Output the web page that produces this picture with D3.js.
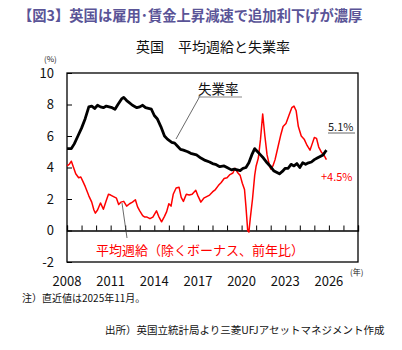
<!DOCTYPE html>
<html>
<head>
<meta charset="utf-8">
<script src="https://cdn.jsdelivr.net/npm/d3@7"></script>
<style>
  body { margin: 0; background: #fff; }
  text { font-family: "Noto Sans CJK JP", "Noto Sans", sans-serif; }
</style>
</head>
<body>
<div id="container"></div>
<script>
let w = 402;
let h = 350;

// unemployment rate (%)
let unempYears = [2008.0, 2008.3, 2008.5, 2008.75, 2009.0, 2009.25, 2009.5, 2009.7, 2009.9, 2010.1, 2010.3, 2010.5, 2010.7, 2010.9,
  2011.1, 2011.3, 2011.5, 2011.75, 2011.9, 2012.1, 2012.3, 2012.5, 2012.8, 2013.0, 2013.2, 2013.4, 2013.6, 2013.8,
  2014.0, 2014.2, 2014.45, 2014.7, 2014.9, 2015.2, 2015.4, 2015.6, 2015.8, 2016.0, 2016.3, 2016.5, 2016.7, 2016.9,
  2017.2, 2017.5, 2017.8, 2018.0, 2018.2, 2018.5, 2018.8, 2019.0, 2019.3, 2019.5, 2019.7, 2019.9, 2020.1, 2020.3,
  2020.5, 2020.7, 2020.9, 2021.1, 2021.3, 2021.5, 2021.75, 2022.0, 2022.2, 2022.4, 2022.6, 2022.8, 2023.0, 2023.2,
  2023.4, 2023.6, 2023.8, 2024.0, 2024.2, 2024.4, 2024.6, 2024.8, 2025.0, 2025.2, 2025.4, 2025.6, 2025.75, 2025.83];
let unempValues = [5.2, 5.2, 5.5, 6.0, 6.5, 7.1, 7.85, 7.9, 7.75, 7.95, 7.85, 7.8, 7.9, 7.85,
  7.8, 7.7, 8.0, 8.35, 8.45, 8.25, 8.1, 7.95, 7.8, 7.85, 7.95, 7.8, 7.75, 7.7,
  7.3, 7.1, 6.6, 6.0, 5.8, 5.6, 5.55, 5.35, 5.15, 5.1, 5.0, 4.9, 4.85, 4.8,
  4.6, 4.45, 4.35, 4.25, 4.2, 4.05, 4.1, 4.0, 3.85, 3.9, 3.85, 3.8, 3.95, 4.0,
  4.3, 4.8, 5.2, 5.0, 4.8, 4.6, 4.3, 4.05, 3.8, 3.7, 3.6, 3.75, 3.95, 3.95,
  4.2, 4.1, 4.25, 4.0, 4.3, 4.2, 4.3, 4.35, 4.5, 4.6, 4.7, 4.8, 5.0, 5.1];

// average weekly earnings excl. bonus, y/y (%)
let wageYears = [2008.0, 2008.15, 2008.3, 2008.45, 2008.6, 2008.8, 2008.95, 2009.1, 2009.25, 2009.5, 2009.7, 2009.85, 2009.95,
  2010.1, 2010.3, 2010.5, 2010.7, 2010.85, 2011.0, 2011.2, 2011.4, 2011.55, 2011.7, 2011.9, 2012.1, 2012.3, 2012.5,
  2012.7, 2012.85, 2013.0, 2013.2, 2013.35, 2013.5, 2013.7, 2013.9, 2014.15, 2014.3, 2014.5, 2014.7, 2014.85, 2015.0,
  2015.15, 2015.3, 2015.5, 2015.7, 2015.85, 2016.0, 2016.2, 2016.4, 2016.6, 2016.85, 2017.0, 2017.2, 2017.4, 2017.6,
  2017.8, 2018.0, 2018.2, 2018.4, 2018.6, 2018.8, 2019.0, 2019.2, 2019.4, 2019.55, 2019.75, 2019.9, 2020.05, 2020.2,
  2020.3, 2020.42, 2020.5, 2020.6, 2020.75, 2020.9, 2021.0, 2021.15, 2021.3, 2021.45, 2021.6, 2021.75, 2021.9, 2022.0,
  2022.15, 2022.3, 2022.5, 2022.7, 2022.85, 2023.05, 2023.25, 2023.45, 2023.6, 2023.75, 2023.9, 2024.1, 2024.3, 2024.5,
  2024.7, 2024.85, 2025.0, 2025.15, 2025.3, 2025.5, 2025.65, 2025.83];
let wageValues = [4.1, 4.2, 4.4, 4.0, 3.6, 3.35, 3.4, 3.1, 2.8, 2.2, 1.8, 1.3, 1.1,
  1.3, 1.75, 1.35, 1.9, 2.3, 2.25, 2.15, 2.05, 1.65, 1.8, 1.85, 1.55, 1.7, 1.8,
  1.95, 1.5, 1.25, 0.95, 0.85, 0.85, 0.75, 0.85, 1.25, 0.9, 0.55, 0.9, 1.2, 1.7,
  1.55, 2.3, 2.7, 2.75, 2.1, 1.85, 2.3, 2.25, 2.3, 2.55, 2.2, 1.8, 2.05, 2.15,
  2.25, 2.45, 2.6, 2.85, 3.05, 3.3, 3.35, 3.55, 3.65, 3.95, 3.65, 3.5, 3.0, 2.6,
  1.5, 0.0, -0.1, 0.8, 2.0, 3.5, 4.1, 4.6, 5.8, 7.4, 6.0, 4.8, 4.2, 3.9,
  4.1, 4.5, 5.3, 6.1, 6.6, 6.8, 7.3, 7.8, 7.9, 7.6, 6.6, 6.0, 5.8, 5.4,
  5.1, 5.5, 5.9, 5.85, 5.3, 4.95, 4.8, 4.5];

let yTicks = [-2, 0, 2, 4, 6, 8, 10];
let xTickLabels = [2008, 2011, 2014, 2017, 2020, 2023, 2026];

let unempData = unempYears.map((y, i) => ({ x: y, v: unempValues[i] }));
let wageData = wageYears.map((y, i) => ({ x: y, v: wageValues[i] }));

let viz = d3.select('#container')
  .append('svg')
    .attr('width', w)
    .attr('height', h)
    .style('background-color', 'white');

let plotLeft = 67, plotRight = 358, plotTop = 73, plotBottom = 262;

let xScale = d3.scaleLinear().domain([2008, 2028]).range([plotLeft, plotRight]);
let yScale = d3.scaleLinear().domain([-2, 10]).range([plotBottom, plotTop]);

// titles
viz.append('text')
  .attr('x', 18).attr('y', 21)
  .attr('font-size', 14.3).attr('font-weight', 'bold')
  .attr('fill', '#5a5497')
  .text('【図3】英国は雇用･賃金上昇減速で追加利下げが濃厚');

viz.append('text')
  .attr('x', 213).attr('y', 52)
  .attr('text-anchor', 'middle')
  .attr('font-size', 14)
  .attr('fill', '#111')
  .text('英国　平均週給と失業率');

viz.append('text')
  .attr('x', 44).attr('y', 62)
  .attr('font-size', 8)
  .attr('fill', '#222')
  .text('(%)');

// frame
viz.append('rect')
  .attr('x', plotLeft).attr('y', plotTop)
  .attr('width', plotRight - plotLeft).attr('height', plotBottom - plotTop)
  .attr('fill', 'none').attr('stroke', '#000').attr('stroke-width', 1.3);

// y axis (inward ticks)
let yAxis = d3.axisRight(yScale).tickValues(yTicks).tickSize(5).tickFormat('');
let yAxisGroup = viz.append('g').attr('class', 'yaxis')
  .attr('transform', 'translate(' + plotLeft + ', 0)')
  .call(yAxis);
yAxisGroup.select('.domain').remove();
yAxisGroup.selectAll('line').attr('stroke', '#000');

viz.append('g').selectAll('text')
  .data(yTicks)
  .join('text')
    .attr('x', plotLeft - 13)
    .attr('y', d => yScale(d) + 4.5)
    .attr('text-anchor', 'end')
    .attr('font-size', 13)
    .attr('fill', '#111')
    .text(d => d);

// zero line with yearly ticks pointing up
let xAxis = d3.axisTop(xScale).tickValues(d3.range(2008, 2029)).tickSize(5).tickFormat('');
let xAxisGroup = viz.append('g').attr('class', 'xaxis')
  .attr('transform', 'translate(0, ' + yScale(0) + ')')
  .call(xAxis);
xAxisGroup.select('.domain').attr('stroke', '#000').attr('stroke-width', 1.3);
xAxisGroup.selectAll('line').attr('stroke', '#000');

viz.append('g').selectAll('text')
  .data(xTickLabels)
  .join('text')
    .attr('x', d => xScale(d))
    .attr('y', plotBottom + 24)
    .attr('text-anchor', 'middle')
    .attr('font-size', 13)
    .attr('fill', '#111')
    .text(d => d);

viz.append('text')
  .attr('x', 350).attr('y', 275)
  .attr('font-size', 8)
  .attr('fill', '#222')
  .text('(年)');

// lines
let line = d3.line()
  .x(d => xScale(d.x))
  .y(d => yScale(d.v));

viz.append('path')
  .datum(wageData)
  .attr('d', line)
  .attr('fill', 'none')
  .attr('stroke', '#ff0000')
  .attr('stroke-width', 1.5)
  .attr('stroke-linejoin', 'round');

viz.append('path')
  .datum(unempData)
  .attr('d', line)
  .attr('fill', 'none')
  .attr('stroke', '#000')
  .attr('stroke-width', 2.8)
  .attr('stroke-linejoin', 'round');

// annotations
viz.append('line')
  .attr('x1', 200).attr('y1', 96)
  .attr('x2', 176).attr('y2', 139)
  .attr('stroke', '#444').attr('stroke-width', 0.8);

viz.append('text')
  .attr('x', 198).attr('y', 94)
  .attr('font-size', 13.5)
  .attr('fill', '#111')
  .text('失業率');
viz.append('line')
  .attr('x1', 198).attr('y1', 97).attr('x2', 242).attr('y2', 97)
  .attr('stroke', '#888').attr('stroke-width', 1);

viz.append('text')
  .attr('x', 328).attr('y', 131)
  .attr('font-size', 11)
  .attr('fill', '#222')
  .text('5.1%');
viz.append('line')
  .attr('x1', 328).attr('y1', 133).attr('x2', 355).attr('y2', 133)
  .attr('stroke', '#666').attr('stroke-width', 1);

viz.append('text')
  .attr('x', 321).attr('y', 181)
  .attr('font-size', 11)
  .attr('fill', '#ff0000')
  .text('+4.5%');

viz.append('line')
  .attr('x1', 122).attr('y1', 203)
  .attr('x2', 127).attr('y2', 238)
  .attr('stroke', '#444').attr('stroke-width', 0.8);

viz.append('text')
  .attr('x', 96).attr('y', 255)
  .attr('font-size', 13)
  .attr('fill', '#ff0000')
  .text('平均週給（除くボーナス、前年比）');

// notes
viz.append('text')
  .attr('x', 22).attr('y', 302)
  .attr('font-size', 10)
  .attr('fill', '#111')
  .text('注）直近値は2025年11月。');

viz.append('text')
  .attr('x', 105).attr('y', 334)
  .attr('font-size', 10.5)
  .attr('fill', '#111')
  .text('出所）英国立統計局より三菱UFJアセットマネジメント作成');
</script>
</body>
</html>
